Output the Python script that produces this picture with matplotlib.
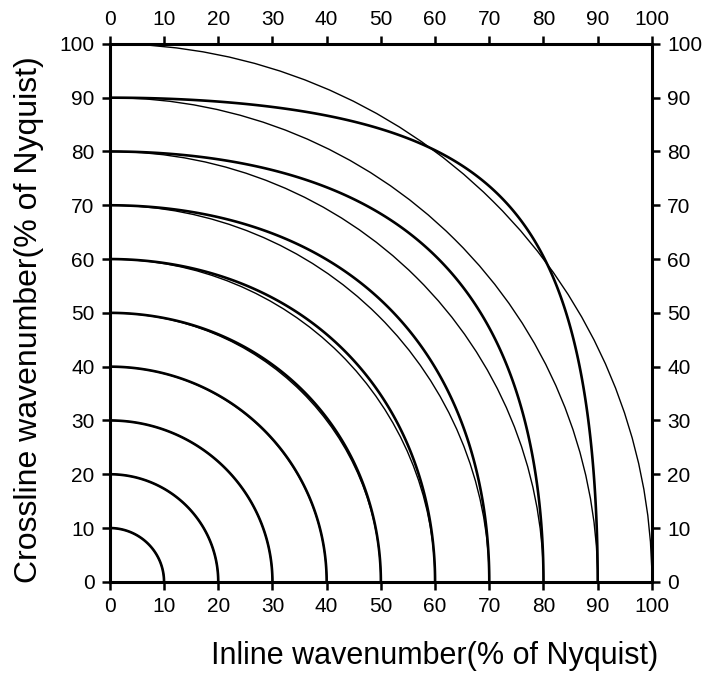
import numpy as np
import matplotlib
matplotlib.use("Agg")
import matplotlib.pyplot as plt
from matplotlib.patches import Arc

plt.rcParams['font.family'] = ['Liberation Sans', 'DejaVu Sans']

# contour levels, % of Nyquist
radii = [10, 20, 30, 40, 50, 60, 70, 80, 90, 100]
ticks = [0, 10, 20, 30, 40, 50, 60, 70, 80, 90, 100]
hale_c = 0.0255  # improved McClellan coefficient

fig = plt.figure(figsize=(7.04, 6.75), dpi=100)
ax = fig.add_axes([0.156, 0.138, 0.770, 0.797])

# thin lines: ideal circular contours
for r in radii:
    ax.add_patch(Arc((0, 0), 2 * r, 2 * r, theta1=0, theta2=90,
                     color='black', lw=1.0))

# thick lines: improved McClellan transform contours
k = np.linspace(0, 100, 1001)
kx, ky = np.meshgrid(k, k)
ax_, ay_ = np.pi * kx / 100, np.pi * ky / 100
g = (-1 + 0.5 * (1 + np.cos(ax_)) * (1 + np.cos(ay_))
     - 0.5 * hale_c * (1 - np.cos(2 * ax_)) * (1 - np.cos(2 * ay_)))
w = np.degrees(np.arccos(np.clip(g, -1, 1))) / 180 * 100
ax.contour(kx, ky, w, levels=radii[:-1], colors='black', linewidths=1.9)

ax.set_xlim(0, 100)
ax.set_ylim(0, 100)
ax.set_xticks(ticks)
ax.set_yticks(ticks)
ax.tick_params(direction='out', length=6, width=1.8, labelsize=15, pad=5,
               top=True, right=True, labeltop=True, labelright=True)
ax.tick_params(axis='x', which='both', labeltop=True)
for s in ax.spines.values():
    s.set_linewidth(2.2)

fig.text(0.617, 0.028, 'Inline wavenumber(% of Nyquist)', fontsize=22,
         ha='center', va='center')
fig.text(0.041, 0.527, 'Crossline wavenumber(% of Nyquist)', fontsize=23,
         ha='center', va='center', rotation=90)

fig.savefig('out.png', dpi=100)
